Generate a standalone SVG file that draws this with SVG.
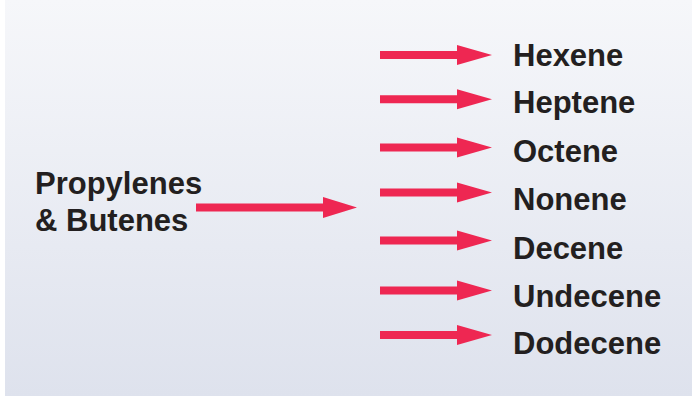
<svg xmlns="http://www.w3.org/2000/svg" width="695" height="396" viewBox="0 0 695 396">
<defs>
<linearGradient id="bg" x1="0" y1="0" x2="0" y2="1">
<stop offset="0" stop-color="#F6F7FA"/>
<stop offset="1" stop-color="#DEE2ED"/>
</linearGradient>
<path id="arr" d="M0,-4 H77 V-10 L112,0 L77,10 V4 H0 Z"/>
</defs>
<style>
.lbl{font-family:"Liberation Sans",Arial,sans-serif;font-weight:bold;font-size:31px;fill:#231F20}
.a{fill:#EE2752}
</style>
<rect x="0" y="0" width="695" height="396" fill="#FFFFFF"/>
<rect x="5" y="0" width="687" height="396" fill="url(#bg)"/>
<g id="source">
<text class="lbl" x="35" y="194">Propylenes</text>
<text class="lbl" x="35" y="231">&amp; Butenes</text>
</g>
<g id="connectors">
<path class="a" d="M196,203.5 H323 V197 L357,207.5 L323,218 V211.5 H196 Z"/>
<use href="#arr" class="a" x="380" y="55"/>
<use href="#arr" class="a" x="380" y="99.3"/>
<use href="#arr" class="a" x="380" y="147.5"/>
<use href="#arr" class="a" x="380" y="192.5"/>
<use href="#arr" class="a" x="380" y="240.5"/>
<use href="#arr" class="a" x="380" y="290.5"/>
<use href="#arr" class="a" x="380" y="335"/>
</g>
<g id="hexene"><text class="lbl" x="513" y="65.5">Hexene</text></g>
<g id="heptene"><text class="lbl" x="513" y="113">Heptene</text></g>
<g id="octene"><text class="lbl" x="513" y="161.5">Octene</text></g>
<g id="nonene"><text class="lbl" x="513" y="210">Nonene</text></g>
<g id="decene"><text class="lbl" x="513" y="258.5">Decene</text></g>
<g id="undecene"><text class="lbl" x="513" y="306.5">Undecene</text></g>
<g id="dodecene"><text class="lbl" x="513" y="354">Dodecene</text></g>
</svg>
